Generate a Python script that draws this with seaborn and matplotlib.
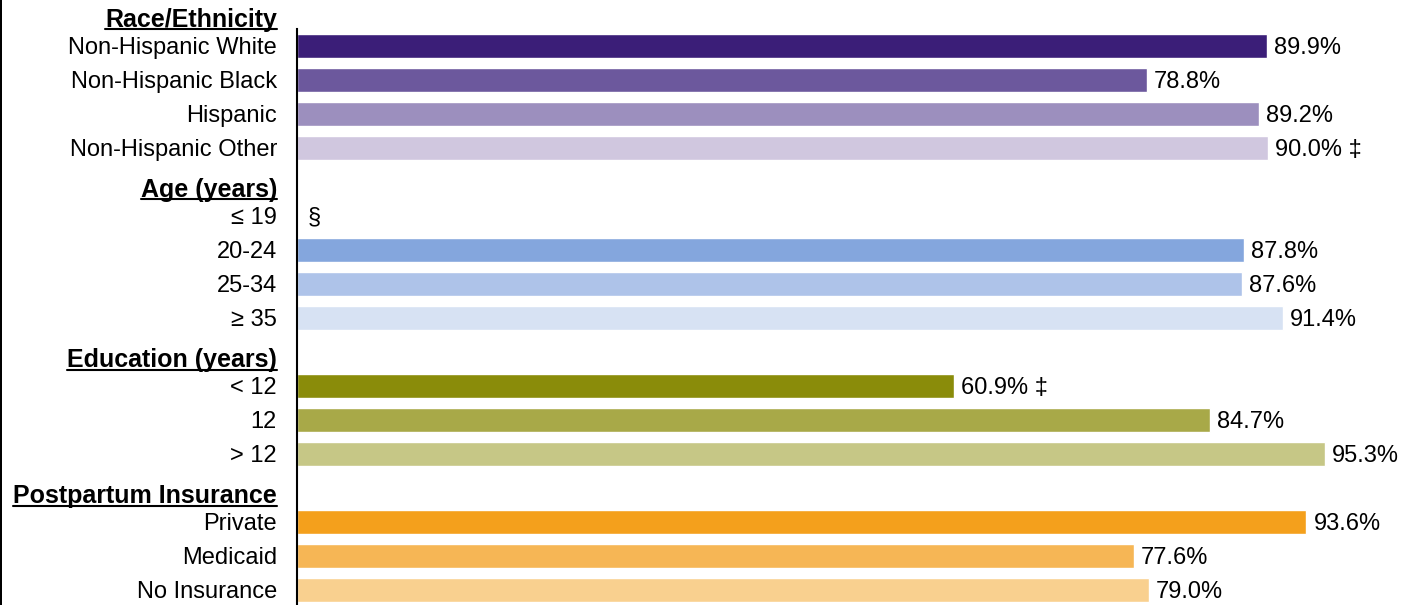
import matplotlib
matplotlib.use("Agg")
import matplotlib.pyplot as plt
from matplotlib.lines import Line2D
from matplotlib.patches import Rectangle
from matplotlib.transforms import ScaledTranslation
import seaborn as sns
import pandas as pd

# ---------------- data ----------------
groups = ["Race/Ethnicity", "Age (years)", "Education (years)", "Postpartum Insurance"]

race_labels = ["Non-Hispanic White", "Non-Hispanic Black", "Hispanic", "Non-Hispanic Other"]
race_values = [89.9, 78.8, 89.2, 90.0]
race_notes = ["", "", "", "‡"]

age_labels = ["≤ 19", "20-24", "25-34", "≥ 35"]
age_values = [None, 87.8, 87.6, 91.4]
age_notes = ["§", "", "", ""]

edu_labels = ["< 12", "12", "> 12"]
edu_values = [60.9, 84.7, 95.3]
edu_notes = ["‡", "", ""]

ins_labels = ["Private", "Medicaid", "No Insurance"]
ins_values = [93.6, 77.6, 79.0]
ins_notes = ["", "", ""]

race_colors = ["#3B1E78", "#6C589D", "#9C8FBE", "#D0C7DF"]
age_colors = ["#5B7FC8", "#84A6DD", "#AEC3E9", "#D7E2F3"]
edu_colors = ["#8A8C0A", "#A8A948", "#C6C786"]
ins_colors = ["#F4A01C", "#F6B655", "#F9D08F"]

sections = [
    (groups[0], race_labels, race_values, race_notes, race_colors),
    (groups[1], age_labels, age_values, age_notes, age_colors),
    (groups[2], edu_labels, edu_values, edu_notes, edu_colors),
    (groups[3], ins_labels, ins_values, ins_notes, ins_colors),
]

# ---------------- build rows ----------------
order, rows, palette, notes, headers = [], [], {}, {}, []
for head, labs, vals, nts, cols in sections:
    headers.append(head)
    order.append(head)
    for lab, v, n, c in zip(labs, vals, nts, cols):
        order.append(lab)
        palette[lab] = c
        notes[lab] = (v, n)
        if v is not None:
            rows.append({"label": lab, "value": v})
df = pd.DataFrame(rows)

FONT = ["Liberation Sans", "DejaVu Sans"]
sns.set_style("white")
plt.rcParams["font.family"] = FONT
plt.rcParams["font.size"] = 17
plt.rcParams["text.color"] = "black"
plt.rcParams["ytick.labelcolor"] = "black"
plt.rcParams["ytick.color"] = "black"

W, H = 1415, 605
fig = plt.figure(figsize=(W / 100, H / 100), dpi=100)
ax = fig.add_axes([297 / W, -2 / H, (1410 - 297) / W, 612 / H])

sns.barplot(data=df, x="value", y="label", hue="label", order=order,
            hue_order=[l for l in order if l in palette], palette=palette,
            orient="h", width=0.68, legend=False, saturation=1, ax=ax,
            errorbar=None)

ax.set_xlim(0, 103.2)
ax.set_ylim(len(order) - 0.5, -0.5)
ax.set_xlabel("")
ax.set_ylabel("")
ax.set_xticks([])
for s in ["top", "right", "bottom"]:
    ax.spines[s].set_visible(False)
ax.spines["left"].set_color("black")
ax.spines["left"].set_linewidth(1.5)
ax.spines["left"].set_bounds(len(order) - 0.5, 0.5)

ax.set_yticks(range(len(order)))
ax.set_yticklabels(["" if l in headers else l for l in order], fontsize=17,
                   color="black")
ax.tick_params(axis="y", length=0, pad=14.4)

# value labels
for i, lab in enumerate(order):
    if lab in headers:
        continue
    v, n = notes[lab]
    if v is None:
        ax.annotate(n, xy=(0, i), xytext=(8, -1.2), textcoords="offset points",
                    va="center", ha="left", fontsize=17, color="black")
    else:
        txt = f"{v:.1f}%" + (f" {n}" if n else "")
        ax.annotate(txt, xy=(v, i), xytext=(5, -1.2), textcoords="offset points",
                    va="center", ha="left", fontsize=17, color="black")

# header labels (bold, underlined)
trans = ax.get_yaxis_transform() + ScaledTranslation(-20 / 100, -15 / 100, fig.dpi_scale_trans)
htexts = []
for i, lab in enumerate(order):
    if lab in headers:
        t = ax.text(0, i, lab, transform=trans, ha="right", va="baseline",
                    fontsize=18, fontweight="bold", clip_on=False, color="black")
        htexts.append(t)

fig.canvas.draw()
renderer = fig.canvas.get_renderer()
inv = fig.transFigure.inverted()
for t in htexts:
    bb = t.get_window_extent(renderer)
    base = t.get_transform().transform(t.get_position())[1]
    y = base - 2.5
    (x0, y0), (x1, y1) = inv.transform([(bb.x0, y), (bb.x1, y)])
    fig.add_artist(Line2D([x0, x1], [y0, y1], transform=fig.transFigure,
                          color="black", linewidth=1.5))

fig.add_artist(Rectangle((0, 0), 2 / W, 1, transform=fig.transFigure,
                         color="black", linewidth=0))

fig.savefig("out.png", dpi=100)
